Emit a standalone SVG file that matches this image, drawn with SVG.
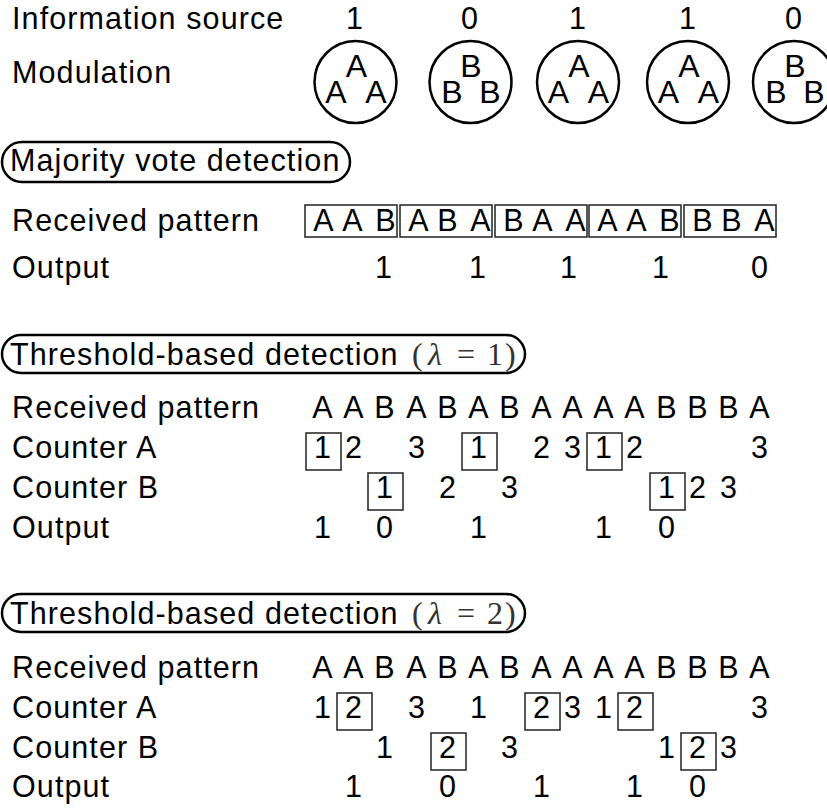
<svg xmlns="http://www.w3.org/2000/svg" width="827" height="810" viewBox="0 0 827 810">
<style>
.t{font-family:"Liberation Sans",Arial,sans-serif;font-size:30.5px;letter-spacing:1.1px;fill:#000}
.m{text-anchor:middle}
.c{font-family:"Liberation Sans",Arial,sans-serif;font-size:32px;fill:#000;text-anchor:middle}
.bx{fill:none;stroke:#222;stroke-width:1.5}
.pill{fill:#fff;stroke:#000;stroke-width:2.5}
.circ{fill:none;stroke:#000;stroke-width:2.5}
.lx{font-family:"Liberation Serif","DejaVu Serif",serif;font-size:32px;fill:#333}
</style>
<rect width="827" height="810" fill="#fff"/>

<g id="header">
<text class="t" x="12" y="29">Information source</text>
<text class="t" x="12" y="83">Modulation</text>
<text class="t m" x="355" y="29">1</text>
<text class="t m" x="470" y="29">0</text>
<text class="t m" x="578" y="29">1</text>
<text class="t m" x="688" y="29">1</text>
<text class="t m" x="794" y="29">0</text>
</g>

<g id="symbol1"><circle class="circ" cx="355.5" cy="82" r="41"/><text class="c" x="356.5" y="77">A</text><text class="c" x="336" y="103">A</text><text class="c" x="376" y="103">A</text></g>
<g id="symbol2"><circle class="circ" cx="470.5" cy="82" r="41"/><text class="c" x="471" y="77">B</text><text class="c" x="452" y="103">B</text><text class="c" x="490" y="103">B</text></g>
<g id="symbol3"><circle class="circ" cx="578" cy="82" r="41"/><text class="c" x="579" y="77">A</text><text class="c" x="558.5" y="103">A</text><text class="c" x="598.5" y="103">A</text></g>
<g id="symbol4"><circle class="circ" cx="688" cy="82" r="41"/><text class="c" x="689" y="77">A</text><text class="c" x="668.5" y="103">A</text><text class="c" x="708.5" y="103">A</text></g>
<g id="symbol5"><circle class="circ" cx="794" cy="82" r="41"/><text class="c" x="795" y="77">B</text><text class="c" x="776" y="103">B</text><text class="c" x="814" y="103">B</text></g>

<g id="majority">
<rect class="pill" x="2" y="142" width="348" height="40" rx="20"/>
<text class="t" x="10" y="171">Majority vote detection</text>
<text class="t" x="12" y="231">Received pattern</text>
<text class="t" x="12" y="278">Output</text>
<rect class="bx" x="305" y="205" width="92" height="32"/>
<rect class="bx" x="400" y="205" width="92" height="32"/>
<rect class="bx" x="495" y="205" width="92" height="32"/>
<rect class="bx" x="589" y="205" width="92" height="32"/>
<rect class="bx" x="684" y="205" width="92" height="32"/>
<g class="t m">
<text x="324" y="231">A</text><text x="353" y="231">A</text><text x="386" y="231">B</text>
<text x="419" y="231">A</text><text x="448" y="231">B</text><text x="481" y="231">A</text>
<text x="514" y="231">B</text><text x="543" y="231">A</text><text x="576" y="231">A</text>
<text x="608" y="231">A</text><text x="637" y="231">A</text><text x="670" y="231">B</text>
<text x="703" y="231">B</text><text x="732" y="231">B</text><text x="765" y="231">A</text>
<text x="384" y="278">1</text>
<text x="478" y="278">1</text>
<text x="569" y="278">1</text>
<text x="661" y="278">1</text>
<text x="760" y="278">0</text>
</g>
</g>

<g id="threshold1">
<rect class="pill" x="2" y="335" width="523" height="38" rx="19"/>
<text class="t" x="10" y="365">Threshold-based detection</text>
<g class="lx"><text x="412" y="365">(</text><text x="428" y="365" font-style="italic">λ</text><text x="457" y="365">=</text><text x="487" y="365">1</text><text x="505" y="365">)</text></g>
<text class="t" x="12" y="418">Received pattern</text>
<text class="t" x="12" y="458">Counter A</text>
<text class="t" x="12" y="498">Counter B</text>
<text class="t" x="12" y="538">Output</text>
<g class="t m">
<text x="323" y="418">A</text><text x="354" y="418">A</text><text x="385" y="418">B</text><text x="417" y="418">A</text><text x="448" y="418">B</text><text x="479" y="418">A</text><text x="510" y="418">B</text><text x="542" y="418">A</text><text x="573" y="418">A</text><text x="604" y="418">A</text><text x="635" y="418">A</text><text x="667" y="418">B</text><text x="698" y="418">B</text><text x="729" y="418">B</text><text x="760" y="418">A</text>
<text x="323" y="458">1</text><text x="354" y="458">2</text><text x="417" y="458">3</text><text x="479" y="458">1</text><text x="542" y="458">2</text><text x="573" y="458">3</text><text x="604" y="458">1</text><text x="635" y="458">2</text><text x="760" y="458">3</text>
<text x="385" y="498">1</text><text x="448" y="498">2</text><text x="510" y="498">3</text><text x="667" y="498">1</text><text x="698" y="498">2</text><text x="729" y="498">3</text>
<text x="323" y="538">1</text><text x="385" y="538">0</text><text x="479" y="538">1</text><text x="604" y="538">1</text><text x="667" y="538">0</text>
</g>
<rect class="bx" x="306" y="433" width="35" height="37"/>
<rect class="bx" x="462" y="433" width="35" height="37"/>
<rect class="bx" x="587" y="433" width="35" height="37"/>
<rect class="bx" x="368" y="473" width="35" height="37"/>
<rect class="bx" x="650" y="473" width="35" height="37"/>
</g>

<g id="threshold2">
<rect class="pill" x="2" y="594" width="523" height="38" rx="19"/>
<text class="t" x="10" y="624">Threshold-based detection</text>
<g class="lx"><text x="412" y="624">(</text><text x="428" y="624" font-style="italic">λ</text><text x="457" y="624">=</text><text x="487" y="624">2</text><text x="505" y="624">)</text></g>
<text class="t" x="12" y="678">Received pattern</text>
<text class="t" x="12" y="718">Counter A</text>
<text class="t" x="12" y="758">Counter B</text>
<text class="t" x="12" y="797">Output</text>
<g class="t m">
<text x="323" y="678">A</text><text x="354" y="678">A</text><text x="385" y="678">B</text><text x="417" y="678">A</text><text x="448" y="678">B</text><text x="479" y="678">A</text><text x="510" y="678">B</text><text x="542" y="678">A</text><text x="573" y="678">A</text><text x="604" y="678">A</text><text x="635" y="678">A</text><text x="667" y="678">B</text><text x="698" y="678">B</text><text x="729" y="678">B</text><text x="760" y="678">A</text>
<text x="323" y="718">1</text><text x="354" y="718">2</text><text x="417" y="718">3</text><text x="479" y="718">1</text><text x="542" y="718">2</text><text x="573" y="718">3</text><text x="604" y="718">1</text><text x="635" y="718">2</text><text x="760" y="718">3</text>
<text x="385" y="758">1</text><text x="448" y="758">2</text><text x="510" y="758">3</text><text x="667" y="758">1</text><text x="698" y="758">2</text><text x="729" y="758">3</text>
<text x="354" y="797">1</text><text x="448" y="797">0</text><text x="542" y="797">1</text><text x="635" y="797">1</text><text x="698" y="797">0</text>
</g>
<rect class="bx" x="337" y="693" width="35" height="37"/>
<rect class="bx" x="525" y="693" width="35" height="37"/>
<rect class="bx" x="618" y="693" width="35" height="37"/>
<rect class="bx" x="431" y="733" width="35" height="37"/>
<rect class="bx" x="681" y="733" width="35" height="37"/>
</g>
</svg>
